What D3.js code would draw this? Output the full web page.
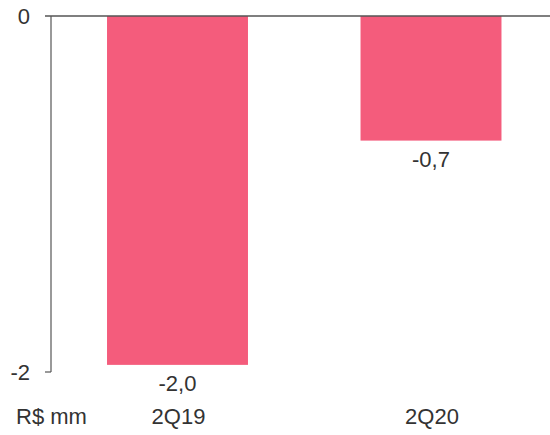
<!DOCTYPE html>
<html><head><meta charset="utf-8">
<script src="https://cdn.jsdelivr.net/npm/d3@7"></script>
<style>body{margin:0;background:#fff}svg{display:block}text{font-family:"Liberation Sans",Arial,sans-serif;fill:#333}</style>
</head><body><svg id="c" width="550" height="435"></svg>
<script>
const categories = ["2Q19", "2Q20"];
const values = [-1.96, -0.7];
const valueLabels = ["-2,0", "-0,7"];
const yTicks = [0, -2];
const unitLabel = "R$ mm";

const svg = d3.select("#c");
const x = d3.scaleBand().domain(categories).range([51, 557.5]).paddingInner(0.444).paddingOuter(0.221);
const y = d3.scaleLinear().domain([0, -2]).range([16, 372]);
const fs = 22;

svg.selectAll("rect.bar").data(categories).join("rect")
  .attr("class","bar")
  .attr("x", d => x(d)).attr("width", x.bandwidth())
  .attr("y", y(0)).attr("height", (d,i) => y(values[i]) - y(0))
  .attr("fill", "#F45C7C");

// axis lines
svg.append("line").attr("x1", 45).attr("x2", 550).attr("y1", y(0)).attr("y2", y(0)).attr("stroke", "#555").attr("stroke-width", 1.5);
svg.append("line").attr("x1", 51).attr("x2", 51).attr("y1", y(0)).attr("y2", y(-2)).attr("stroke", "#555").attr("stroke-width", 1.2);
svg.append("line").attr("x1", 45).attr("x2", 51).attr("y1", y(-2)).attr("y2", y(-2)).attr("stroke", "#555").attr("stroke-width", 1.2);

svg.selectAll("text.tick").data(yTicks).join("text")
  .attr("class","tick").attr("x", 30).attr("y", d => y(d) + 8)
  .attr("text-anchor","end").attr("font-size", fs).text(d => d);

svg.selectAll("text.val").data(categories).join("text")
  .attr("class","val").attr("x", d => x(d) + x.bandwidth()/2)
  .attr("y", (d,i) => y(values[i]) + 26)
  .attr("text-anchor","middle").attr("font-size", fs).text((d,i) => valueLabels[i]);

svg.selectAll("text.cat").data(categories).join("text")
  .attr("class","cat").attr("x", d => x(d) + x.bandwidth()/2 + 1)
  .attr("y", 424).attr("text-anchor","middle").attr("font-size", fs).text(d => d);

svg.append("text").attr("x", 16).attr("y", 424).attr("font-size", fs).text(unitLabel);
</script></body></html>
